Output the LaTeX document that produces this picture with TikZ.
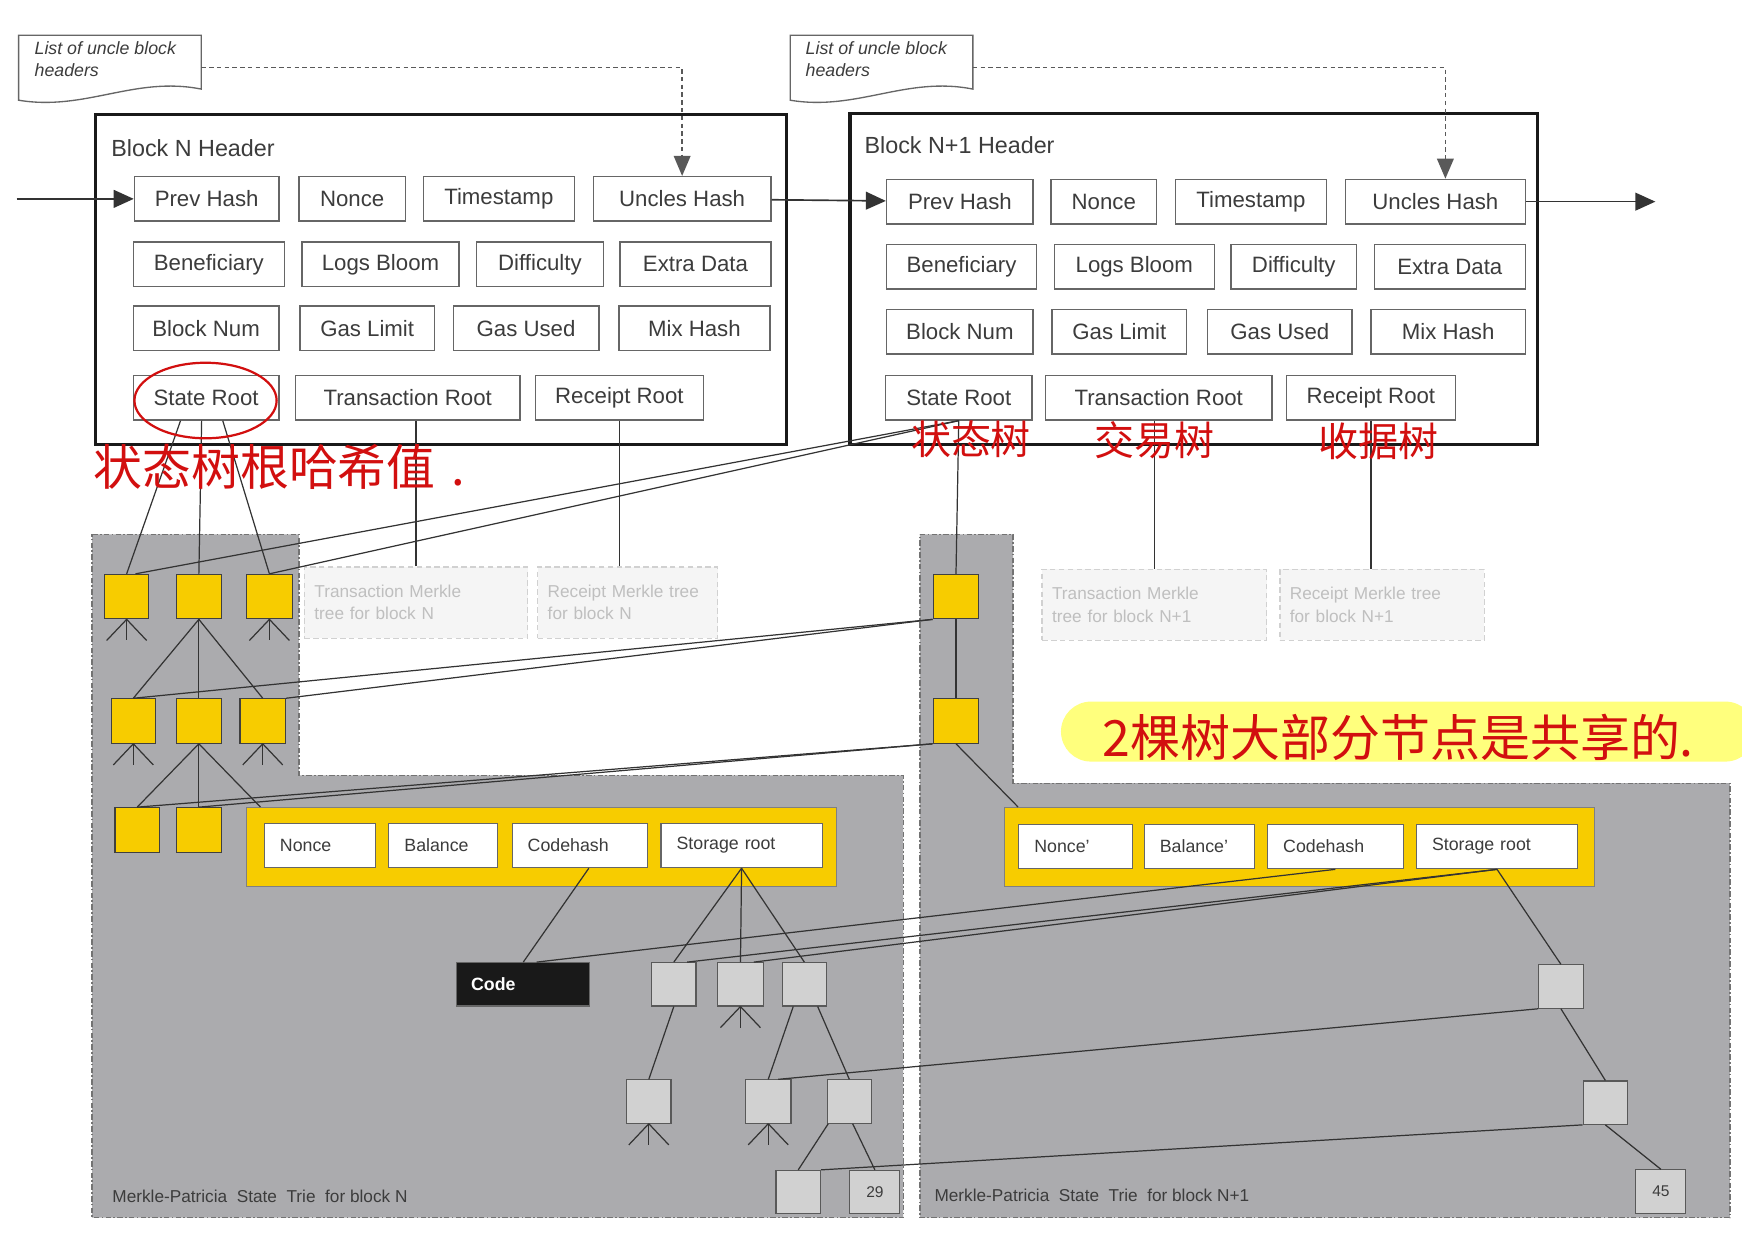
\documentclass[tikz,border=0pt]{standalone}
\usepackage{fontspec}
\setmainfont{Liberation Sans}
\newfontfamily\cjk{Noto Sans CJK SC}
\usepackage{tikz}
\usetikzlibrary{arrows.meta,positioning}

\definecolor{trie}{RGB}{171,171,174}
\definecolor{acc}{RGB}{247,204,0}
\definecolor{handred}{RGB}{210,15,15}
\definecolor{marker}{RGB}{255,255,125}
\definecolor{ink}{RGB}{60,60,60}

\begin{document}
\begin{tikzpicture}[x=1pt, y=-1pt,
                every node/.append style={font=\fontsize{20}{24}\selectfont, text=ink},
                field/.style={draw=black!60, fill=white, line width=1.3pt, minimum height=40pt, inner sep=0pt},
                hdr/.style={draw=black!90, line width=3pt, inner sep=0pt},
                doc/.style={minimum width=164pt, minimum height=58pt, inner sep=0pt},
                docline/.style={draw=black!60, fill=white, line width=1.2pt},
                doctext/.style={font=\itshape\fontsize{16}{20}\selectfont, align=left, inner sep=0pt},
                flow/.style={draw=black!80, line width=1.5pt, -{Triangle[length=18pt,width=16pt]}},
                uncle/.style={draw=black!65, line width=1.3pt, dash pattern=on 4pt off 3pt, -{Triangle[length=18pt,width=15pt]}},
                region/.style={fill=trie, draw=black!55, line width=1.3pt, dash pattern=on 5pt off 2pt on 1.5pt off 2pt},
                faded/.style={draw=black!18, fill=black!4, line width=1.3pt, dash pattern=on 5pt off 3pt, text=black!25, font=\fontsize{15.5}{20}\selectfont, align=left, inner xsep=9pt, minimum height=64pt},
                ynode/.style={draw=black!75, fill=acc, line width=1pt, minimum width=40pt, minimum height=40pt, inner sep=0pt},
                gnode/.style={draw=black!65, fill=black!18, line width=1pt, minimum width=40pt, minimum height=39pt, inner sep=0pt, font=\fontsize{14}{16}\selectfont},
                accbox/.style={draw=black!50, fill=acc, line width=1.3pt, minimum width=531pt, minimum height=71pt, inner sep=0pt},
                accfield/.style={draw=black!60, fill=white, line width=1pt, minimum height=40pt, inner ysep=0pt, inner xsep=14pt, align=left, font=\fontsize{16}{18}\selectfont},
                codebox/.style={draw=black!60, fill=black!90, text=white, line width=1pt, minimum height=39pt, inner ysep=0pt, inner xsep=13pt, align=left, font=\bfseries\fontsize{16}{18}\selectfont},
                link/.style={draw=black!80, line width=1.1pt},
                trielabel/.style={anchor=west, inner sep=0pt, font=\fontsize{15.5}{18}\selectfont},
                hand/.style={text=handred, inner sep=0pt},
                pill/.style={fill=marker, rounded corners=27pt, minimum width=625pt, minimum height=54pt, inner sep=0pt}]
                \fill[white] (0,0) rectangle (1568,1109);
                \useasboundingbox (0,0) rectangle (1568,1109);
                \draw[region] (83,481) -- (269,481) -- (269,698) -- (813,698) -- (813,1096) -- (83,1096) -- cycle;
                \draw[region] (828,481) -- (912,481) -- (912,705) -- (1557,705) -- (1557,1096) -- (828,1096) -- cycle;
                \node[doc] (docN) at (99,61) {};
                \draw[docline] (docN.north west) -- (docN.north east) -- ([yshift=10pt]docN.south east)
                    .. controls +(-60,-12) and +(60,10) .. (docN.south west) -- cycle;
                \node[doctext, anchor=north west] (docNtxt) at (31,37) {List of uncle block\\headers};
                \node[doc] (docM) at (793.5,61) {};
                \draw[docline] (docM.north west) -- (docM.north east) -- ([yshift=10pt]docM.south east)
                    .. controls +(-60,-12) and +(60,10) .. (docM.south west) -- cycle;
                \node[doctext, anchor=north west] (docMtxt) at (725,37) {List of uncle block\\headers};
                \node[hdr, minimum width=622pt, minimum height=297pt] (hdrN) at (397,251.5) {};
                \node[hdr, minimum width=619pt, minimum height=298pt] (hdrM) at (1074.5,251) {};
                \node[anchor=west, inner sep=0pt, font=\fontsize{21}{25}\selectfont] (titleN) at (100,133) {Block N Header};
                \node[anchor=west, inner sep=0pt, font=\fontsize{21}{25}\selectfont] (titleM) at (778,131) {Block N+1 Header};
                \node[field, minimum width=130pt] (prevN) at (186,179) {Prev Hash};
                \node[field, minimum width=96pt] (nonceN) at (317,179) {Nonce};
                \node[field, minimum width=136pt] (timeN) at (449,179) {Timestamp};
                \node[field, minimum width=160pt] (unclesN) at (614,179) {Uncles Hash};
                \node[field, minimum width=136pt] (benefN) at (188,238) {Beneficiary};
                \node[field, minimum width=141pt] (bloomN) at (342.5,238) {Logs Bloom};
                \node[field, minimum width=114pt] (diffN) at (486,238) {Difficulty};
                \node[field, minimum width=136pt] (extraN) at (626,238) {Extra Data};
                \node[field, minimum width=131pt] (numN) at (185.5,295.5) {Block Num};
                \node[field, minimum width=121pt] (gasLimN) at (330.5,295.5) {Gas Limit};
                \node[field, minimum width=131pt] (gasUsedN) at (473.5,295.5) {Gas Used};
                \node[field, minimum width=136pt] (mixN) at (625,295.5) {Mix Hash};
                \node[field, minimum width=131pt] (stateN) at (185.5,358) {State Root};
                \node[field, minimum width=202pt] (txN) at (367,358) {Transaction Root};
                \node[field, minimum width=151pt] (rcptN) at (557.5,358) {Receipt Root};
                \node[field, minimum width=132pt] (prevM) at (864,181.5) {Prev Hash};
                \node[field, minimum width=95pt] (nonceM) at (993.5,181.5) {Nonce};
                \node[field, minimum width=136pt] (timeM) at (1126,181.5) {Timestamp};
                \node[field, minimum width=162pt] (unclesM) at (1292,181.5) {Uncles Hash};
                \node[field, minimum width=135pt] (benefM) at (865.5,240) {Beneficiary};
                \node[field, minimum width=144pt] (bloomM) at (1021,240) {Logs Bloom};
                \node[field, minimum width=113pt] (diffM) at (1164.5,240) {Difficulty};
                \node[field, minimum width=136pt] (extraM) at (1305,240) {Extra Data};
                \node[field, minimum width=132pt] (numM) at (864,298.5) {Block Num};
                \node[field, minimum width=121pt] (gasLimM) at (1007.5,298.5) {Gas Limit};
                \node[field, minimum width=130pt] (gasUsedM) at (1152,298.5) {Gas Used};
                \node[field, minimum width=139pt] (mixM) at (1303.5,298.5) {Mix Hash};
                \node[field, minimum width=132pt] (stateM) at (863,358) {State Root};
                \node[field, minimum width=204pt] (txM) at (1043,358) {Transaction Root};
                \node[field, minimum width=152pt] (rcptM) at (1234,358) {Receipt Root};
                \coordinate (inN) at (15,179);
                \coordinate (outM) at (1490,181.5);
                \draw[flow] (inN) -- (prevN);
                \draw[flow] (unclesN) -- (prevM);
                \draw[flow] (unclesM) -- (outM);
                \draw[uncle] (docN.east) -| (unclesN.north);
                \draw[uncle] (docM.east) -| ([xshift=9pt]unclesM.north);
                \node[faded, text width=183pt] (txTreeN) at (374.5,542.5) {Transaction Merkle\\tree for block N};
                \node[faded, text width=144pt] (rcTreeN) at (565,542.5) {Receipt Merkle tree\\for block N};
                \node[faded, text width=184pt] (txTreeM) at (1039,544.5) {Transaction Merkle\\tree for block N+1};
                \node[faded, text width=166pt] (rcTreeM) at (1244,544.5) {Receipt Merkle tree\\for block N+1};
                \draw[link] (txTreeN.north) -- (txTreeN.north |- txN.south);
                \draw[link] (rcptN.south) -- (rcptN.south |- rcTreeN.north);
                \draw[link] (txTreeM.north) -- (txTreeM.north |- txM.south);
                \draw[link] (rcptM.south) -- (rcptM.south |- rcTreeM.north);
                \node[ynode] (a1) at (114,537) {};
                \node[ynode] (a2) at (179,537) {};
                \node[ynode, minimum width=41pt] (a3) at (242.5,537) {};
                \node[ynode] (b1) at (120,649) {};
                \node[ynode] (b2) at (179,649) {};
                \node[ynode, minimum width=41pt] (b3) at (236.5,649) {};
                \node[ynode] (c1) at (123.5,747) {};
                \node[ynode] (c2) at (179,747) {};
                \node[ynode, minimum width=41pt] (r1) at (860.5,537) {};
                \node[ynode, minimum width=41pt] (r2) at (860.5,649) {};
                \node[accbox] (acctN) at (487.5,762.5) {};
                \node[accfield, text width=72pt] (accNonceN) at (288,761) {Nonce};
                \node[accfield, text width=70pt] (accBalN) at (399,761) {Balance};
                \node[accfield, text width=94pt] (accCodeN) at (522,761) {Codehash};
                \node[accfield, text width=117pt] (accStorN) at (667.5,761) {Storage root};
                \node[accbox] (acctM) at (1169.5,762.5) {};
                \node[accfield, text width=74pt] (accNonceM) at (968,762) {Nonce'};
                \node[accfield, text width=71pt] (accBalM) at (1079.5,762) {Balance'};
                \node[accfield, text width=94pt] (accCodeM) at (1202,762) {Codehash};
                \node[accfield, text width=117pt] (accStorM) at (1347.5,762) {Storage root};
                \node[codebox, text width=94pt] (code) at (471,886) {Code};
                \node[gnode] (ga) at (606.5,886) {};
                \node[gnode, minimum width=42pt] (gb) at (666.5,886) {};
                \node[gnode] (gc) at (724,886) {};
                \node[gnode] (gd) at (584,991.5) {};
                \node[gnode, minimum width=41pt] (ge) at (691.5,991.5) {};
                \node[gnode] (gf) at (764.5,991.5) {};
                \node[gnode] (gg) at (718.5,1073) {};
                \node[gnode, minimum width=45pt] (g29) at (787.5,1073) {29};
                \node[gnode] (p1) at (1405,888) {};
                \node[gnode] (q1) at (1445,992.5) {};
                \node[gnode, minimum width=45pt] (g45) at (1495,1072.5) {45};
                \foreach \n in {a1,a3,b1,b3,gb,gd,ge}
                    \foreach \d in {-18,0,18}
                        \draw[link] (\n.south) -- ++(\d,19);
                \draw[link] ([xshift=-23pt]stateN.south) -- (a1.north);
                \draw[link] ([xshift=-4pt]stateN.south) -- (a2.north);
                \draw[link] ([xshift=15pt]stateN.south) -- (a3.north);
                \foreach \c in {b1,b2,b3}
                    \draw[link] (a2.south) -- (\c.north);
                \draw[link] (b2.south) -- (c1.north);
                \draw[link] (b2.south) -- (c2.north);
                \draw[link] (b2.south) -- ([xshift=13pt]acctN.north west);
                \draw[link] (stateM.south) -- (r1.north);
                \draw[link] (stateM.south) -- ([xshift=8pt]a1.north);
                \draw[link] (stateM.south) -- (a3.north);
                \draw[link] (r1.south) -- (r2.north);
                \draw[link] (r1.south west) -- (b1.north);
                \draw[link] (r1.south west) -- (b3.north east);
                \draw[link] (r2.south west) -- (c1.north);
                \draw[link] (r2.south west) -- (c2.north);
                \draw[link] (r2.south) -- ([xshift=13pt]acctM.north west);
                \draw[link] ([xshift=8pt]accCodeN.south) -- (code.north);
                \draw[link] (accCodeM.south) -- ([xshift=12pt]code.north);
                \foreach \c in {ga,gb,gc}
                    \draw[link] (accStorN.south) -- (\c.north);
                \draw[link] (accStorM.south) -- ([xshift=12pt]ga.north);
                \draw[link] (accStorM.south) -- ([xshift=12pt]gb.north);
                \draw[link] (accStorM.south) -- (p1.north);
                \draw[link] (ga.south) -- (gd.north);
                \draw[link] ([xshift=-10pt]gc.south) -- (ge.north);
                \draw[link] ([xshift=12pt]gc.south) -- (gf.north);
                \draw[link] ([xshift=-19pt]gf.south) -- (gg.north);
                \draw[link] ([xshift=3pt]gf.south) -- (g29.north);
                \draw[link] (p1.south) -- (q1.north);
                \draw[link] (q1.south) -- (g45.north);
                \draw[link] (p1.south west) -- ([xshift=9pt]ge.north);
                \draw[link] (q1.south west) -- (gg.north east);
                \node[trielabel] (labelN) at (101,1077) {Merkle-Patricia\ \ State\ \ Trie\ \ for block N};
                \node[trielabel] (labelM) at (841,1076) {Merkle-Patricia\ \ State\ \ Trie\ \ for block N+1};
                \draw[draw=handred, line width=2pt] (185,360.5) ellipse [x radius=64, y radius=34];
                \node[hand, anchor=west, font=\cjk\fontsize{44}{48}\selectfont] (rootNote) at (84,420) {状态树根哈希值\hspace{14pt}.};
                \node[hand, font=\cjk\fontsize{36}{40}\selectfont] (stateNote) at (874,395) {状态树};
                \node[hand, font=\cjk\fontsize{36}{40}\selectfont] (txNote) at (1039,396) {交易树};
                \node[hand, font=\cjk\fontsize{36}{40}\selectfont] (rcNote) at (1241,397) {收据树};
                \node[pill] (sharePill) at (1267.5,658.5) {};
                \node[hand, anchor=west, font=\cjk\fontsize{45}{50}\selectfont] (shareNote) at (992,664) {2棵树大部分节点是共享的.};
                \end{tikzpicture}
\end{document}
